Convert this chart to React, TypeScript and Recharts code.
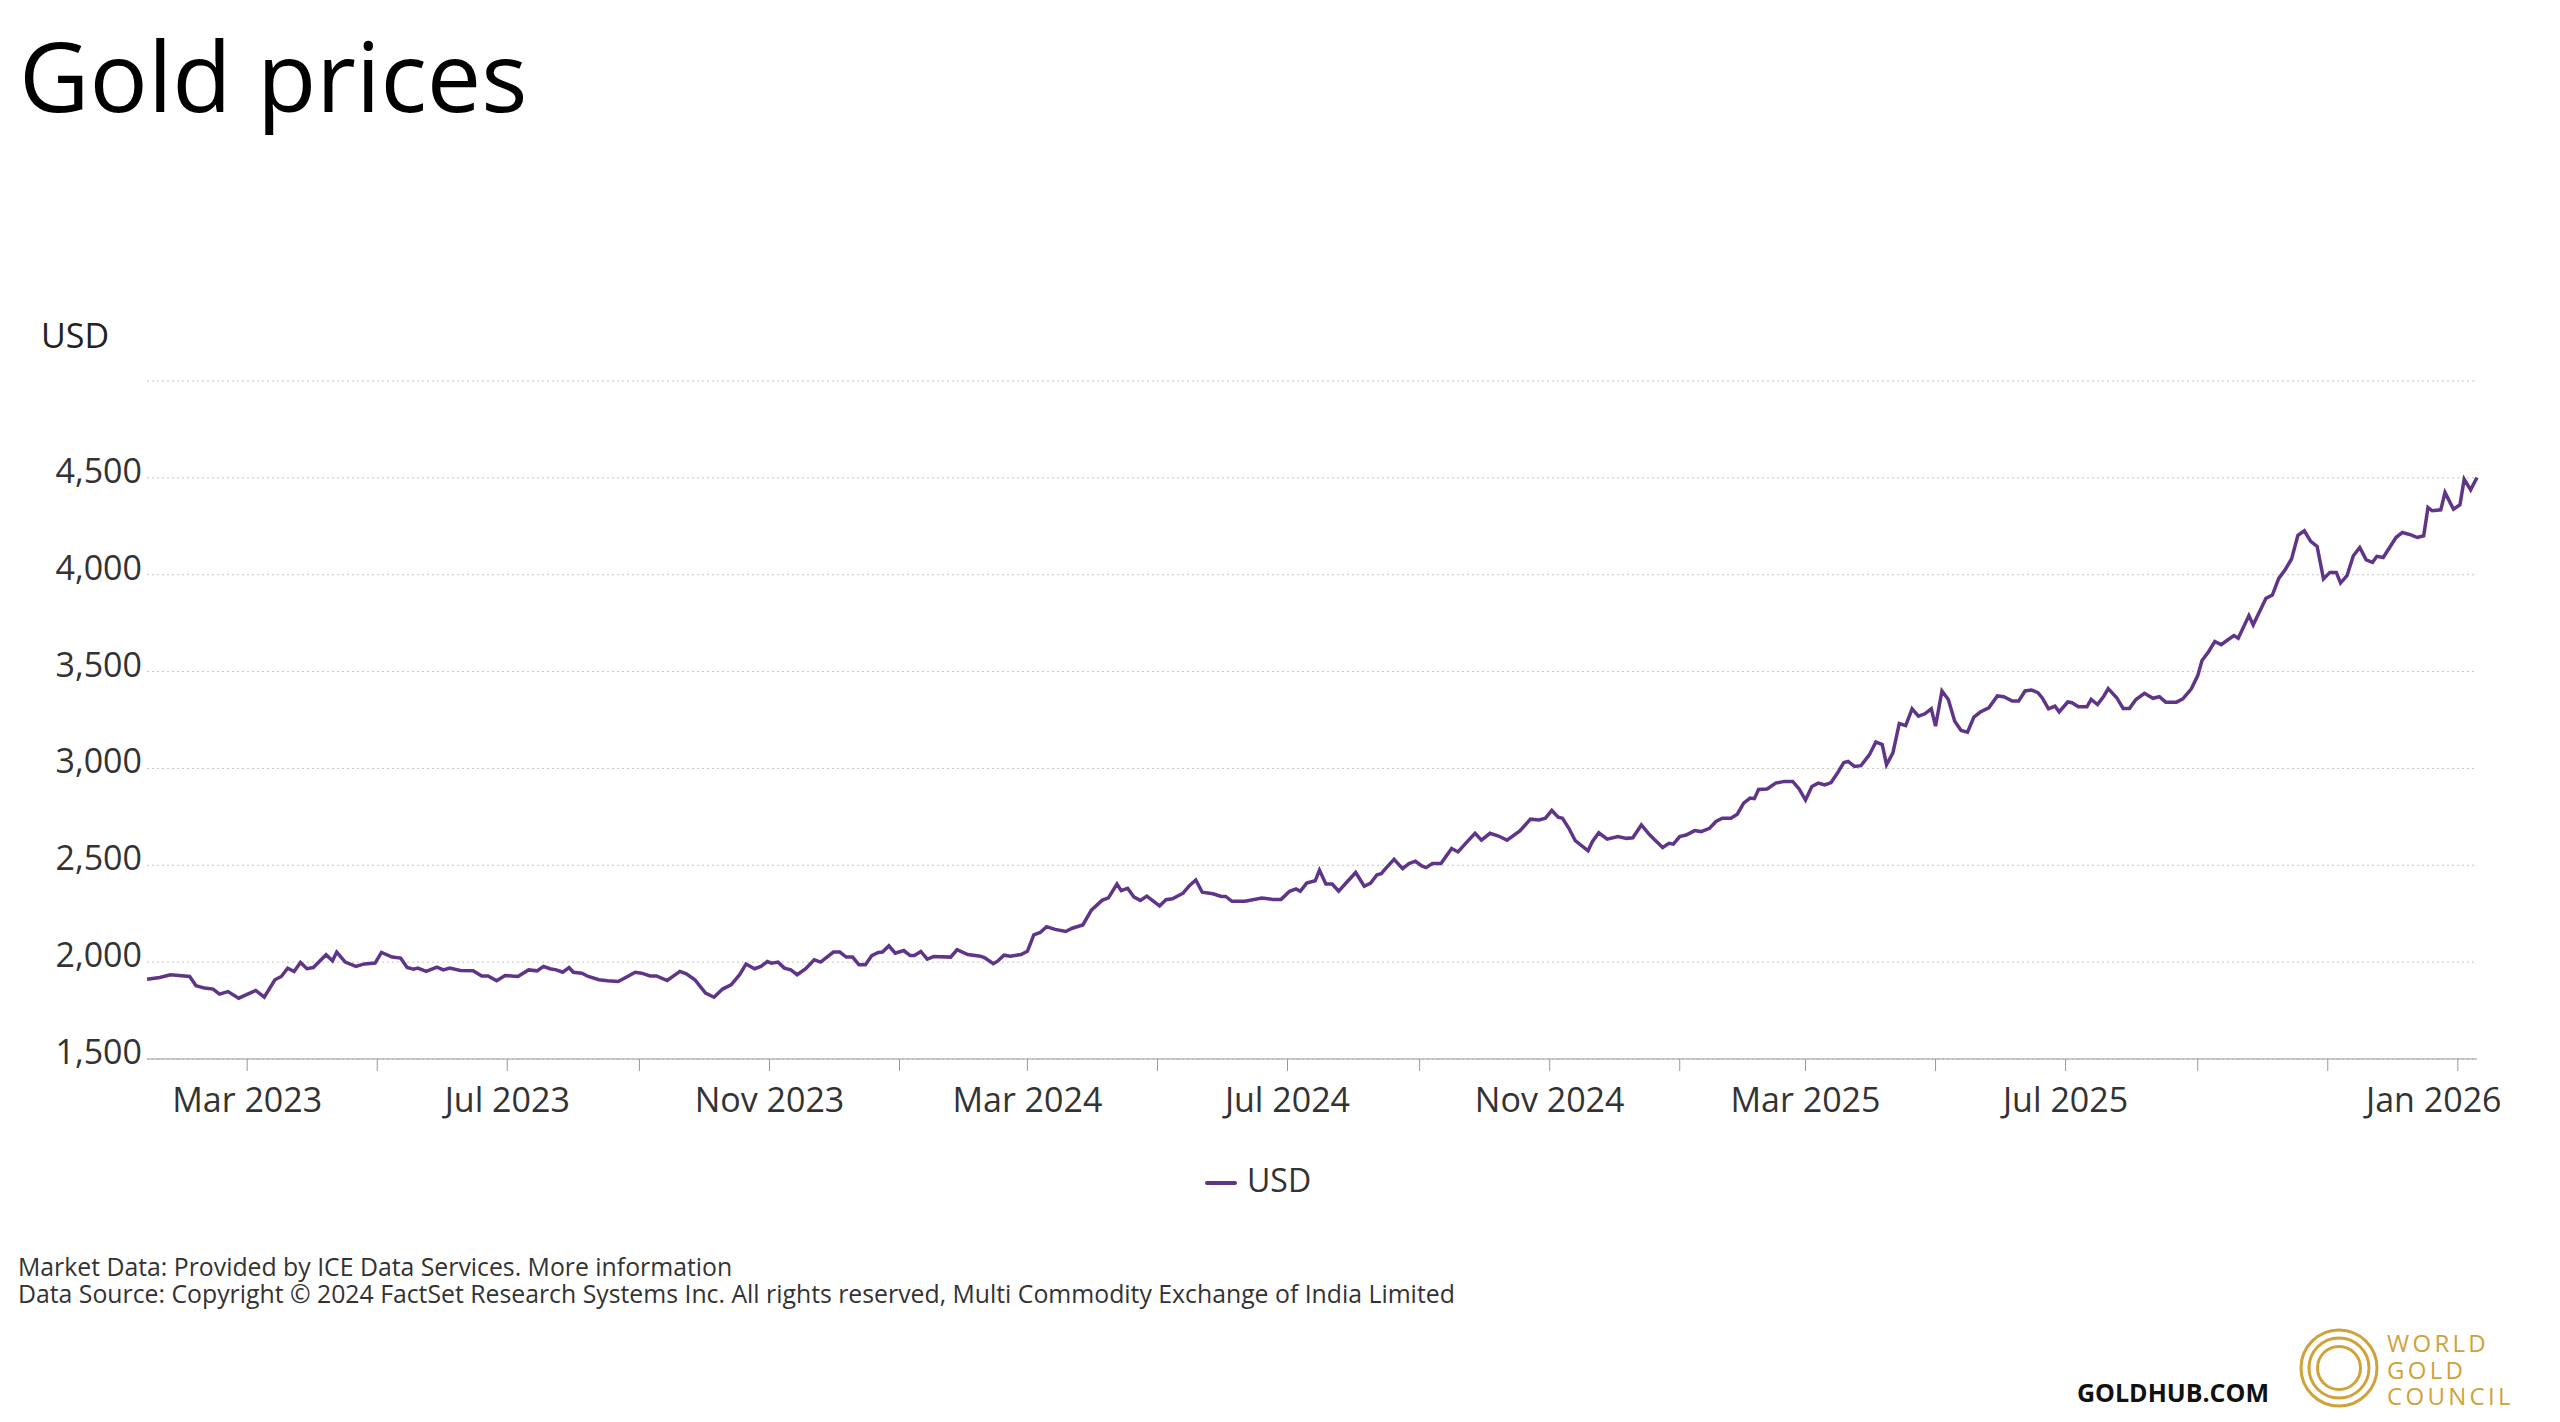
import React from "react";
import { LineChart, Line, XAxis, YAxis, CartesianGrid, Legend } from "recharts";

document.body.style.margin = "0";

const FONT = "'Open Sans', 'Noto Sans', sans-serif";
const PURPLE = "#5F3589";
const GOLD = "#CFA23A";

const dates = [
  "2023-01-13", "2023-01-19", "2023-01-24", "2023-02-02", "2023-02-05", "2023-02-09", "2023-02-13", "2023-02-16",
  "2023-02-20", "2023-02-25", "2023-03-05", "2023-03-09", "2023-03-14", "2023-03-17", "2023-03-20", "2023-03-23",
  "2023-03-26", "2023-03-29", "2023-04-01", "2023-04-07", "2023-04-10", "2023-04-12", "2023-04-16", "2023-04-21",
  "2023-04-25", "2023-04-30", "2023-05-03", "2023-05-08", "2023-05-12", "2023-05-15", "2023-05-18", "2023-05-20",
  "2023-05-24", "2023-05-29", "2023-06-01", "2023-06-04", "2023-06-09", "2023-06-15", "2023-06-19", "2023-06-22",
  "2023-06-26", "2023-06-30", "2023-07-06", "2023-07-11", "2023-07-15", "2023-07-18", "2023-07-21", "2023-07-24",
  "2023-07-27", "2023-07-30", "2023-08-01", "2023-08-05", "2023-08-08", "2023-08-13", "2023-08-17", "2023-08-22",
  "2023-08-26", "2023-08-30", "2023-09-02", "2023-09-06", "2023-09-09", "2023-09-14", "2023-09-20", "2023-09-23",
  "2023-09-27", "2023-10-02", "2023-10-06", "2023-10-10", "2023-10-14", "2023-10-18", "2023-10-21", "2023-10-25",
  "2023-10-28", "2023-10-31", "2023-11-02", "2023-11-05", "2023-11-08", "2023-11-11", "2023-11-14", "2023-11-18",
  "2023-11-22", "2023-11-25", "2023-12-01", "2023-12-04", "2023-12-07", "2023-12-10", "2023-12-13", "2023-12-16",
  "2023-12-19", "2023-12-22", "2023-12-24", "2023-12-27", "2023-12-30", "2024-01-03", "2024-01-06", "2024-01-08",
  "2024-01-11", "2024-01-14", "2024-01-17", "2024-01-25", "2024-01-28", "2024-02-02", "2024-02-08", "2024-02-10",
  "2024-02-14", "2024-02-16", "2024-02-19", "2024-02-22", "2024-02-27", "2024-03-01", "2024-03-04", "2024-03-07",
  "2024-03-10", "2024-03-14", "2024-03-19", "2024-03-22", "2024-03-27", "2024-03-31", "2024-04-05", "2024-04-08",
  "2024-04-12", "2024-04-14", "2024-04-17", "2024-04-20", "2024-04-23", "2024-04-26", "2024-05-02", "2024-05-05",
  "2024-05-08", "2024-05-13", "2024-05-16", "2024-05-19", "2024-05-22", "2024-05-27", "2024-05-31", "2024-06-02",
  "2024-06-05", "2024-06-11", "2024-06-19", "2024-06-24", "2024-06-28", "2024-07-02", "2024-07-05", "2024-07-07",
  "2024-07-10", "2024-07-14", "2024-07-16", "2024-07-19", "2024-07-22", "2024-07-25", "2024-07-29", "2024-08-02",
  "2024-08-06", "2024-08-09", "2024-08-12", "2024-08-14", "2024-08-16", "2024-08-20", "2024-08-24", "2024-08-27",
  "2024-08-30", "2024-09-02", "2024-09-04", "2024-09-07", "2024-09-11", "2024-09-16", "2024-09-19", "2024-09-23",
  "2024-09-27", "2024-09-30", "2024-10-04", "2024-10-08", "2024-10-12", "2024-10-18", "2024-10-23", "2024-10-27",
  "2024-10-30", "2024-11-02", "2024-11-05", "2024-11-07", "2024-11-10", "2024-11-13", "2024-11-19", "2024-11-21",
  "2024-11-24", "2024-11-28", "2024-12-03", "2024-12-07", "2024-12-10", "2024-12-14", "2024-12-18", "2024-12-20",
  "2024-12-24", "2024-12-27", "2024-12-29", "2025-01-01", "2025-01-04", "2025-01-08", "2025-01-11", "2025-01-15",
  "2025-01-18", "2025-01-21", "2025-01-25", "2025-01-28", "2025-01-31", "2025-02-03", "2025-02-05", "2025-02-07",
  "2025-02-11", "2025-02-15", "2025-02-19", "2025-02-23", "2025-02-26", "2025-03-01", "2025-03-04", "2025-03-07",
  "2025-03-10", "2025-03-13", "2025-03-16", "2025-03-19", "2025-03-21", "2025-03-24", "2025-03-27", "2025-03-31",
  "2025-04-03", "2025-04-06", "2025-04-08", "2025-04-11", "2025-04-14", "2025-04-17", "2025-04-20", "2025-04-23",
  "2025-04-26", "2025-04-29", "2025-05-01", "2025-05-04", "2025-05-07", "2025-05-10", "2025-05-13", "2025-05-16",
  "2025-05-19", "2025-05-22", "2025-05-26", "2025-05-30", "2025-06-02", "2025-06-06", "2025-06-09", "2025-06-12",
  "2025-06-15", "2025-06-18", "2025-06-20", "2025-06-23", "2025-06-26", "2025-06-28", "2025-07-02", "2025-07-04",
  "2025-07-07", "2025-07-11", "2025-07-13", "2025-07-16", "2025-07-19", "2025-07-21", "2025-07-25", "2025-07-28",
  "2025-07-31", "2025-08-03", "2025-08-07", "2025-08-11", "2025-08-14", "2025-08-17", "2025-08-22", "2025-08-25",
  "2025-08-29", "2025-09-01", "2025-09-03", "2025-09-06", "2025-09-09", "2025-09-12", "2025-09-15", "2025-09-18",
  "2025-09-20", "2025-09-25", "2025-09-27", "2025-10-01", "2025-10-03", "2025-10-06", "2025-10-09", "2025-10-12",
  "2025-10-15", "2025-10-18", "2025-10-21", "2025-10-24", "2025-10-27", "2025-10-30", "2025-11-02", "2025-11-05",
  "2025-11-07", "2025-11-10", "2025-11-13", "2025-11-16", "2025-11-19", "2025-11-22", "2025-11-24", "2025-11-27",
  "2025-12-03", "2025-12-06", "2025-12-10", "2025-12-13", "2025-12-16", "2025-12-18", "2025-12-20", "2025-12-24",
  "2025-12-26", "2025-12-30", "2026-01-02", "2026-01-04", "2026-01-07", "2026-01-10",
];

const usd = [
  1912, 1921, 1935, 1926, 1878, 1866, 1861, 1835,
  1848, 1814, 1854, 1819, 1909, 1926, 1969, 1952,
  1998, 1966, 1972, 2038, 2007, 2052, 2000, 1978,
  1991, 1995, 2050, 2026, 2021, 1972, 1964, 1969,
  1952, 1974, 1960, 1969, 1957, 1955, 1929, 1929,
  1904, 1931, 1926, 1960, 1955, 1978, 1966, 1960,
  1948, 1972, 1948, 1943, 1926, 1909, 1904, 1900,
  1923, 1948, 1943, 1929, 1929, 1905, 1952, 1940,
  1909, 1840, 1819, 1861, 1883, 1935, 1990, 1966,
  1978, 2003, 1995, 2000, 1969, 1960, 1935, 1966,
  2012, 2000, 2052, 2052, 2026, 2026, 1986, 1986,
  2034, 2050, 2052, 2084, 2046, 2060, 2034, 2034,
  2055, 2015, 2029, 2026, 2064, 2039, 2031, 2022,
  1992, 2005, 2036, 2031, 2039, 2056, 2141, 2153,
  2183, 2169, 2158, 2175, 2192, 2268, 2319, 2332,
  2403, 2369, 2381, 2336, 2319, 2341, 2290, 2322,
  2327, 2356, 2395, 2424, 2361, 2353, 2339, 2339,
  2314, 2314, 2331, 2324, 2324, 2366, 2378, 2366,
  2408, 2420, 2475, 2403, 2403, 2366, 2415, 2463,
  2392, 2408, 2451, 2457, 2483, 2531, 2483, 2509,
  2521, 2497, 2488, 2509, 2509, 2587, 2569, 2618,
  2665, 2630, 2665, 2651, 2630, 2677, 2738, 2734,
  2743, 2783, 2748, 2743, 2691, 2627, 2575, 2622,
  2668, 2635, 2648, 2639, 2642, 2708, 2656, 2634,
  2592, 2613, 2609, 2648, 2656, 2679, 2674, 2691,
  2726, 2743, 2743, 2764, 2821, 2847, 2844, 2891,
  2894, 2924, 2933, 2933, 2894, 2837, 2907, 2924,
  2915, 2927, 2976, 3031, 3036, 3010, 3014, 3071,
  3137, 3123, 3019, 3080, 3232, 3221, 3308, 3270,
  3282, 3308, 3218, 3400, 3356, 3244, 3196, 3187,
  3265, 3291, 3313, 3374, 3370, 3348, 3348, 3400,
  3405, 3391, 3365, 3308, 3322, 3292, 3343, 3339,
  3318, 3318, 3356, 3330, 3374, 3412, 3365, 3310,
  3310, 3356, 3388, 3362, 3370, 3342, 3342, 3359,
  3411, 3479, 3557, 3601, 3655, 3639, 3663, 3686,
  3672, 3789, 3741, 3832, 3878, 3895, 3981, 4026,
  4081, 4204, 4227, 4172, 4146, 3978, 4012, 4012,
  3957, 3995, 4098, 4141, 4077, 4064, 4095, 4089,
  4192, 4218, 4206, 4192, 4201, 4347, 4330, 4335,
  4424, 4338, 4361, 4493, 4438, 4502,
];

const yTicks = [1500, 2000, 2500, 3000, 3500, 4000, 4500, 5000];

const xTicks = [
  "2023-03-01", "2023-05-01", "2023-07-01", "2023-09-01", "2023-11-01", "2024-01-01",
  "2024-03-01", "2024-05-01", "2024-07-01", "2024-09-01", "2024-11-01", "2025-01-01",
  "2025-03-01", "2025-05-01", "2025-07-01", "2025-09-01", "2025-11-01", "2026-01-01",
];

const xLabels = [
  "2023-03-01", "2023-07-01", "2023-11-01", "2024-03-01", "2024-07-01",
  "2024-11-01", "2025-03-01", "2025-07-01", "2026-01-01",
];

const MONTHS = ["Jan", "Feb", "Mar", "Apr", "May", "Jun", "Jul", "Aug", "Sep", "Oct", "Nov", "Dec"];

const data = dates.map((d, i) => ({ t: Date.parse(d), usd: usd[i] }));
const labelSet = new Set(xLabels.map((d) => Date.parse(d)));
const lastLabel = Date.parse(xLabels[xLabels.length - 1]);

function formatDate(t: number) {
  if (!labelSet.has(t)) return "";
  const d = new Date(t);
  return `${MONTHS[d.getUTCMonth()]} ${d.getUTCFullYear()}`;
}

function formatPrice(v: number) {
  if (v === 5000) return "";
  return v.toLocaleString("en-US");
}

// the last label is pulled left so it stays inside the chart, like the original
function XTick(props: any) {
  const { x, y, payload } = props;
  const label = formatDate(payload.value);
  if (!label) return null;
  return (
    <text x={x} y={y} dy="0.71em" dx={payload.value === lastLabel ? -24 : 0} textAnchor="middle" fill="#333" fontSize={34} fontFamily={FONT}>
      {label}
    </text>
  );
}

function YTick(props: any) {
  const { x, y, payload } = props;
  return (
    <text x={x} y={y} dy={5} textAnchor="end" fill="#333" fontSize={34} fontFamily={FONT}>
      {formatPrice(payload.value)}
    </text>
  );
}

function LegendContent(props: any) {
  const items = props.payload || [];
  return (
    <div style={{ position: "relative", height: 46, fontFamily: FONT }}>
      {items.map((item: any) => (
        <div key={item.value}>
          <div style={{ position: "absolute", left: 0, top: 21, width: 32, height: 4, borderRadius: 2, background: item.color }} />
          <div style={{ position: "absolute", left: 42, top: 4, fontSize: 32, lineHeight: 1, color: "#333", whiteSpace: "nowrap" }}>
            {item.value}
          </div>
        </div>
      ))}
    </div>
  );
}

function Logo() {
  return (
    <svg width={90} height={90} style={{ position: "absolute", left: 2294, top: 1323 }}>
      <g fill="none" stroke={GOLD} strokeWidth={3}>
        <circle cx={45} cy={45} r={38} />
        <circle cx={45} cy={45} r={30} />
        <circle cx={45} cy={45} r={21.5} />
      </g>
    </svg>
  );
}

export default function App() {
  const textBase: React.CSSProperties = { position: "absolute", fontFamily: FONT, lineHeight: 1, whiteSpace: "nowrap" };
  return (
    <div style={{ position: "relative", width: 2560, height: 1422, background: "#fff", fontFamily: FONT, overflow: "hidden" }}>
      <div style={{ ...textBase, left: 19, top: 26, fontSize: 97, color: "#000" }}>Gold prices</div>
      <div style={{ ...textBase, left: 41, top: 318, fontSize: 34, color: "#222" }}>USD</div>

      <div style={{ position: "absolute", left: 0, top: 0 }}>
        <LineChart width={2560} height={1422} data={data} margin={{ top: 381, right: 83, left: 0, bottom: 303 }}>
          <CartesianGrid vertical={false} stroke="#c4c4c4" strokeDasharray="2 3" />
          <XAxis
            dataKey="t"
            type="number"
            scale="time"
            domain={["dataMin", "dataMax"]}
            ticks={xTicks.map((d) => Date.parse(d))}
            interval={0}
            tickFormatter={formatDate}
            height={60}
            tickSize={12}
            tickMargin={17}
            stroke="#999"
            tick={<XTick />}
          />
          <YAxis
            type="number"
            domain={[1500, 5000]}
            ticks={yTicks}
            interval={0}
            width={147}
            axisLine={false}
            tickLine={false}
            tickSize={0}
            tickMargin={5}
            tick={<YTick />}
          />
          <Line
            type="linear"
            dataKey="usd"
            name="USD"
            stroke={PURPLE}
            strokeWidth={3.5}
            dot={false}
            isAnimationActive={false}
          />
          <Legend
            verticalAlign="middle"
            align="center"
            wrapperStyle={{ top: 1160, left: 1205, width: 200 }}
            content={LegendContent}
          />
        </LineChart>
      </div>

      <div style={{ ...textBase, left: 18, top: 1253, fontSize: 24.8, lineHeight: "27.3px", color: "#333" }}>
        Market Data: Provided by ICE Data Services. More information
        <br />
        Data Source: Copyright © 2024 FactSet Research Systems Inc. All rights reserved, Multi Commodity Exchange of India Limited
      </div>

      <div style={{ ...textBase, left: 2077, top: 1380, fontSize: 25, fontWeight: 700, color: "#111" }}>GOLDHUB.COM</div>
      <Logo />
      <div style={{ ...textBase, left: 2387, top: 1330, fontSize: 24, fontWeight: 400, letterSpacing: 3.3, lineHeight: "26.7px", color: GOLD }}>
        WORLD
        <br />
        GOLD
        <br />
        COUNCIL
      </div>
    </div>
  );
}
